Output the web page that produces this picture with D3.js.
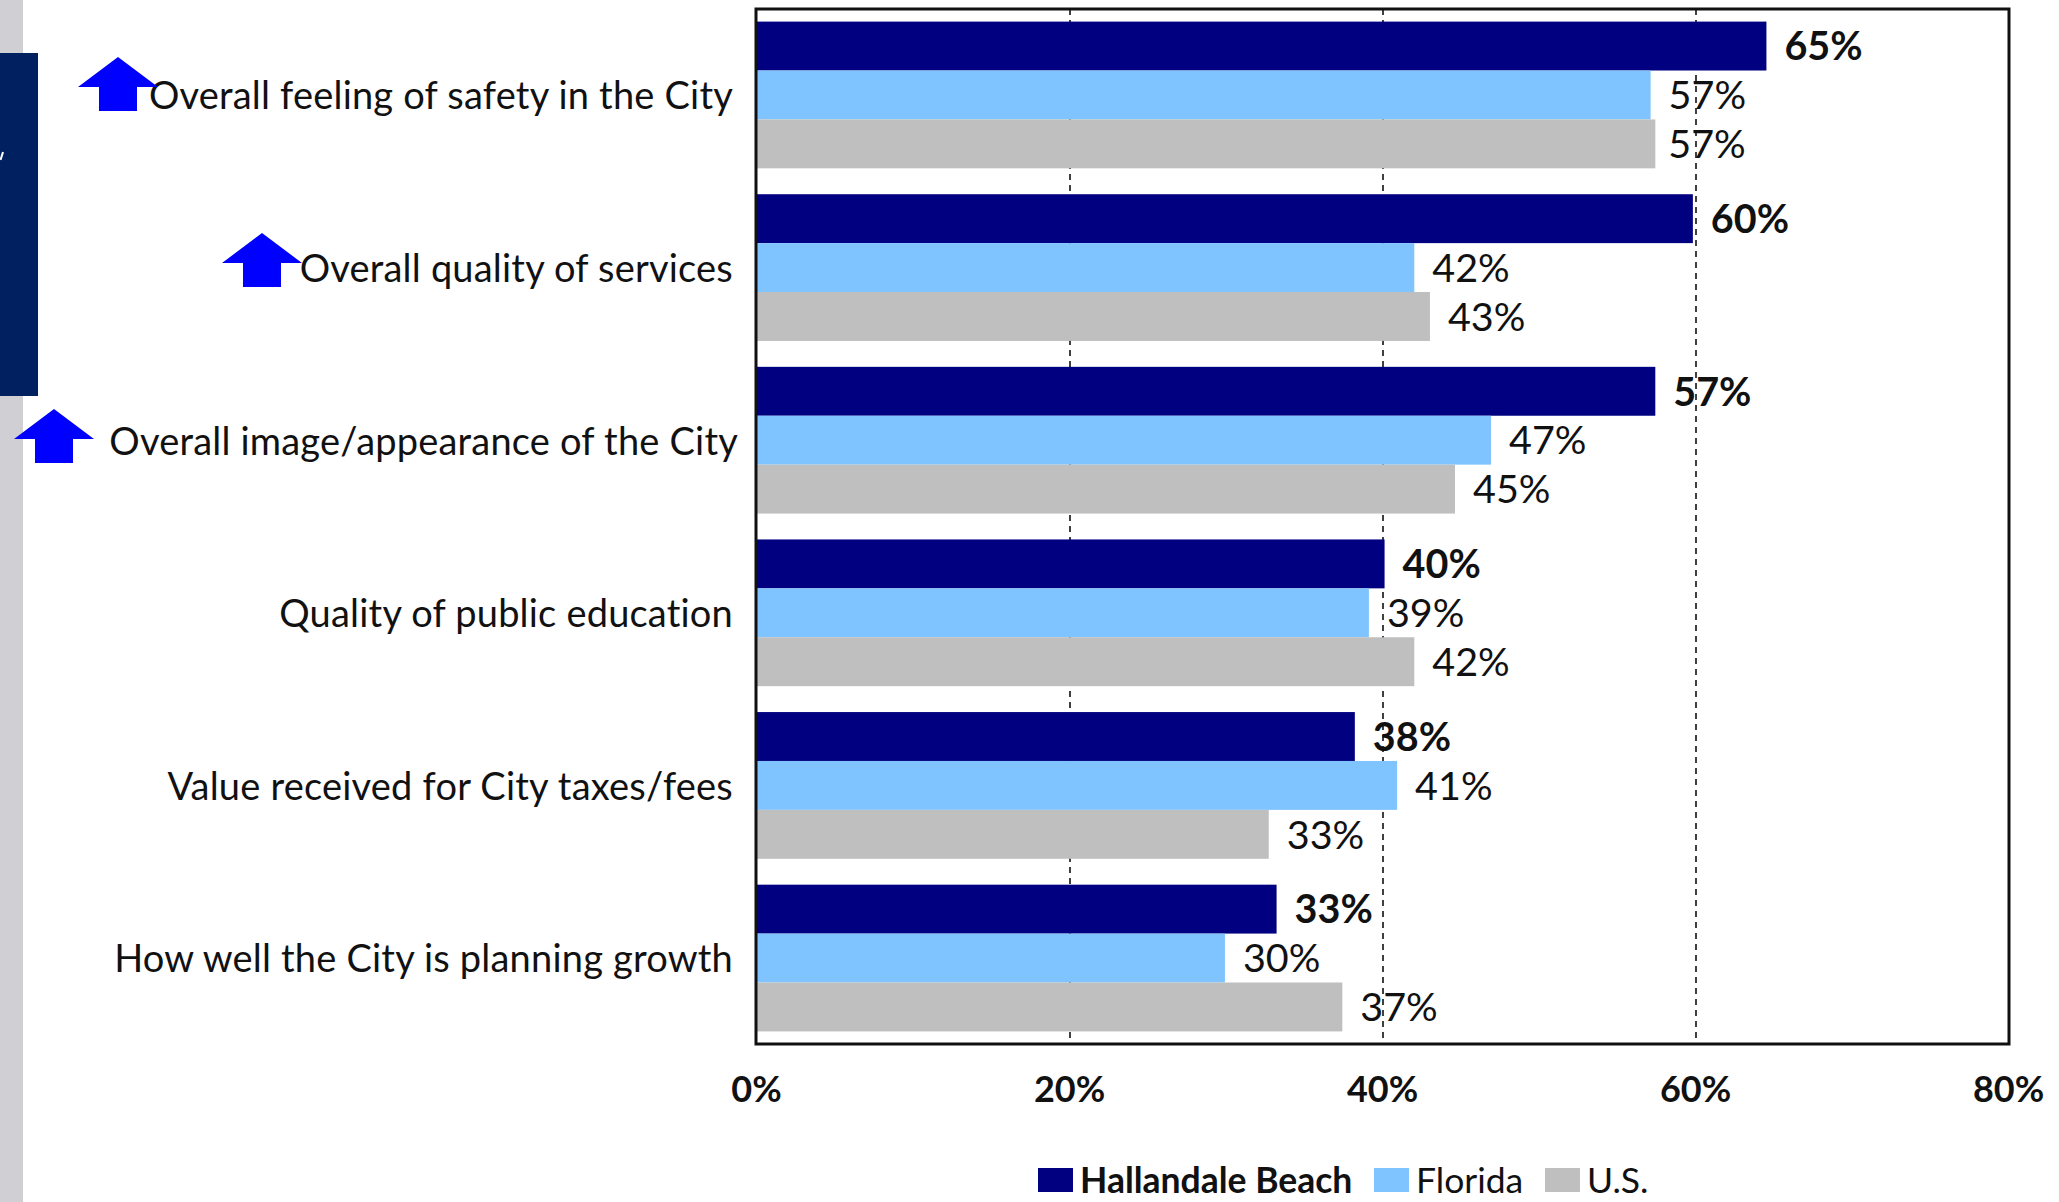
<!DOCTYPE html>
<html><head><meta charset="utf-8">
<script src="https://cdn.jsdelivr.net/npm/d3@7"></script>
<style>
html,body{margin:0;padding:0;background:#fff;overflow:hidden}
text{font-family:Lato,"Open Sans",sans-serif;fill:#111}
</style></head><body>
<svg id="c" width="2059" height="1202"></svg>
<script>
const categories=["Overall feeling of safety in the City","Overall quality of services","Overall image/appearance of the City","Quality of public education","Value received for City taxes/fees","How well the City is planning growth"];
const seriesNames=["Hallandale Beach","Florida","U.S."];
const hallandale=[64.5,59.8,57.4,40.1,38.2,33.2];
const florida=[57.1,42,46.9,39.1,40.9,29.9];
const us=[57.4,43,44.6,42,32.7,37.4];
const colors=["#000080","#80c4ff","#bfbfbf"];
const ticks=[0,20,40,60,80];
const arrowed=[0,1,2];

const W=2059,H=1202,L=757,R=2009,T=9,B=1044;
const svg=d3.select("#c");
svg.append("rect").attr("x",0).attr("y",0).attr("width",23).attr("height",H).attr("fill","#d0d0d4");
svg.append("rect").attr("x",0).attr("y",53).attr("width",38).attr("height",343).attr("fill","#00205f");
svg.append("path").attr("d","M3,152 L0.5,160").attr("stroke","#fff").attr("stroke-width",2).attr("fill","none");

const x=d3.scaleLinear().domain([0,80]).range([L,R]);
const y=d3.scaleBand().domain(categories).range([T,B]).paddingInner(0.15).paddingOuter(0.073);
const sub=d3.scaleBand().domain(seriesNames).range([0,y.bandwidth()]);
const allSeries=[hallandale,florida,us];

// gridlines
svg.append("g").selectAll("line").data(ticks.slice(1,4)).join("line")
 .attr("x1",d=>x(d)).attr("x2",d=>x(d)).attr("y1",T).attr("y2",B)
 .attr("stroke","#111").attr("stroke-width",1.6).attr("stroke-dasharray","6 5");

// bars
seriesNames.forEach((s,i)=>{
  svg.append("g").selectAll("rect").data(allSeries[i]).join("rect")
   .attr("x",L).attr("y",(d,j)=>y(categories[j])+sub(s))
   .attr("width",d=>x(d)-L).attr("height",sub.bandwidth()).attr("fill",colors[i]);
});
// frame
svg.append("rect").attr("x",L-1).attr("y",T).attr("width",R-L+1).attr("height",B-T)
 .attr("fill","none").attr("stroke","#111").attr("stroke-width",3);

// value labels
seriesNames.forEach((s,i)=>{
  svg.append("g").selectAll("text").data(allSeries[i]).join("text")
   .attr("x",(d,j)=>x(d)+(i==2&&j==0?13:18)).attr("y",(d,j)=>y(categories[j])+sub(s)+sub.bandwidth()/2)
   .attr("dy","0.36em").attr("font-size",39.5).attr("font-weight",i==0?700:400)
   .text(d=>Math.round(d)+"%");
});

// axes
const xAxis=d3.axisBottom(x).tickValues(ticks).tickSize(0).tickPadding(32).tickFormat(d=>d+"%");
const gx=svg.append("g").attr("transform",`translate(-1,${B})`).call(xAxis);
gx.select(".domain").remove();
gx.selectAll("text").attr("font-size",36).attr("font-weight",700).style("font-family","Lato");

const yAxis=d3.axisLeft(y).tickSize(0).tickPadding(24);
const gy=svg.append("g").attr("transform",`translate(${L},0)`).call(yAxis);
gy.select(".domain").remove();
gy.selectAll("text").attr("font-size",38).style("font-family","Lato").style("letter-spacing","0.2px").attr("dy","0.38em");
gy.selectAll("text").filter(d=>d===categories[2]).attr("dx",5);

// arrows
const arrowX=[118,262,54], arrowTop=[57,233,409];
const arrow=d3.line();
arrowed.forEach((j,k)=>{
  const ax=arrowX[k], top=arrowTop[k];
  svg.append("path").attr("fill","#0000ff").attr("d",arrow([[ax,top],[ax+40,top+30],[ax+19,top+30],[ax+19,top+54],[ax-19,top+54],[ax-19,top+30],[ax-40,top+30]])+"Z");
});

// legend
const legendSwatchX=[1038,1374,1545];
const lg=svg.append("g").selectAll("g").data(seriesNames).join("g")
 .attr("transform",(d,i)=>`translate(${legendSwatchX[i]},1168)`);
lg.append("rect").attr("width",35).attr("height",24).attr("fill",(d,i)=>colors[i]);
lg.append("text").attr("x",42).attr("y",12).attr("dy","0.36em").attr("font-size",35.5)
 .attr("font-weight",(d,i)=>i==0?700:400).text(d=>d);
</script></body></html>
